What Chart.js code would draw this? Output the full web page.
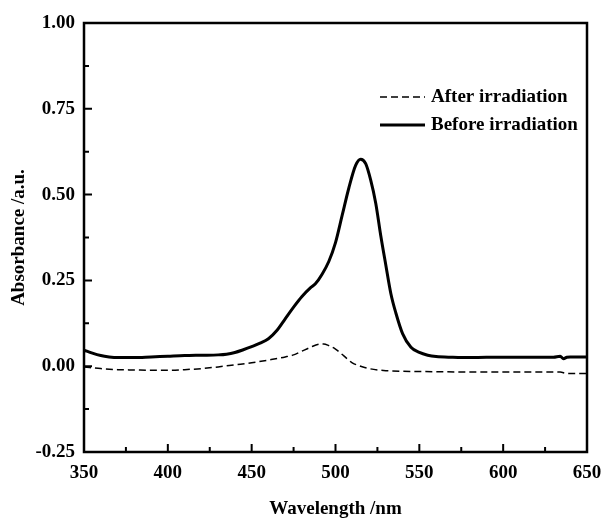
<!DOCTYPE html>
<html>
<head>
<meta charset="utf-8">
<script src="https://cdn.jsdelivr.net/npm/chart.js@4.4.1/dist/chart.umd.min.js"></script>
<style>
  html, body { margin: 0; padding: 0; background: #fff; }
  #wrap { width: 605px; height: 525px; }
</style>
</head>
<body>
<div id="wrap"><canvas id="chart0" width="605" height="525"></canvas></div>
<script>
// wavelength (nm) and absorbance
const beforeNm  = [350, 355, 360, 365, 370, 380, 390, 400, 410, 420, 430, 435, 440, 445, 450, 455, 460, 465, 470, 475, 480, 485, 488, 492, 496, 500, 504, 508, 512, 515, 518, 521, 524, 527, 530, 533, 536, 540, 545, 550, 555, 560, 570, 580, 590, 600, 610, 620, 630, 634, 636, 638, 640, 645, 650];
const beforeAbs = [0.047, 0.038, 0.031, 0.027, 0.025, 0.025, 0.027, 0.029, 0.031, 0.032, 0.033, 0.035, 0.040, 0.048, 0.057, 0.067, 0.080, 0.104, 0.138, 0.172, 0.203, 0.228, 0.240, 0.268, 0.305, 0.360, 0.440, 0.520, 0.585, 0.603, 0.590, 0.542, 0.475, 0.380, 0.295, 0.212, 0.155, 0.095, 0.055, 0.040, 0.032, 0.028, 0.026, 0.025, 0.026, 0.026, 0.026, 0.026, 0.026, 0.029, 0.022, 0.026, 0.027, 0.027, 0.027];

const afterNm  = [350, 360, 370, 380, 390, 400, 410, 420, 430, 440, 450, 460, 470, 475, 480, 485, 490, 493, 496, 500, 505, 510, 515, 520, 530, 540, 560, 580, 600, 620, 634, 638, 645, 650];
const afterAbs = [-0.002, -0.007, -0.010, -0.011, -0.012, -0.012, -0.010, -0.007, -0.002, 0.004, 0.010, 0.018, 0.027, 0.033, 0.044, 0.055, 0.064, 0.065, 0.060, 0.050, 0.030, 0.010, 0.000, -0.007, -0.013, -0.015, -0.016, -0.017, -0.017, -0.017, -0.017, -0.021, -0.021, -0.021];

const xMin = 350, xMax = 650, xStep = 50;
const yMin = -0.25, yMax = 1.0, yStep = 0.25;

const serif = '"Liberation Serif", "Times New Roman", serif';

function toPoints(xs, ys) {
  return xs.map((x, i) => ({ x: x, y: ys[i] }));
}

// frame, inward ticks (major + minor) and legend
const framePlugin = {
  id: 'framePlugin',
  afterDraw(chart) {
    const ctx = chart.ctx;
    const a = chart.chartArea;
    const xs = chart.scales.x, ys = chart.scales.y;
    ctx.save();
    ctx.strokeStyle = '#000';

    // ticks
    ctx.lineWidth = 2;
    ctx.beginPath();
    for (let v = xMin; v <= xMax + 1e-9; v += xStep / 2) {
      const px = xs.getPixelForValue(v);
      const major = Math.abs((v - xMin) % xStep) < 1e-6;
      ctx.moveTo(px, a.bottom);
      ctx.lineTo(px, a.bottom - (major ? 8 : 5));
    }
    for (let v = yMin; v <= yMax + 1e-9; v += yStep / 2) {
      const py = ys.getPixelForValue(v);
      const k = Math.round((v - yMin) / (yStep / 2));
      const major = k % 2 === 0;
      ctx.moveTo(a.left, py);
      ctx.lineTo(a.left + (major ? 8 : 5), py);
    }
    ctx.stroke();

    // frame
    ctx.lineWidth = 2.5;
    ctx.strokeRect(a.left, a.top, a.right - a.left, a.bottom - a.top);

    // legend
    const lx = a.left + 296, ly = a.top + 74, gap = 28;
    ctx.font = 'bold 19px ' + serif;
    ctx.fillStyle = '#000';
    ctx.textBaseline = 'middle';
    chart.data.datasets.forEach((ds, i) => {
      const y = ly + i * gap;
      ctx.lineWidth = ds.borderWidth;
      ctx.setLineDash(ds.borderDash || []);
      ctx.beginPath();
      ctx.moveTo(lx, y);
      ctx.lineTo(lx + 45, y);
      ctx.stroke();
      ctx.setLineDash([]);
      ctx.fillText(ds.label, lx + 51, y);
    });
    ctx.restore();
  }
};

let myChart = new Chart(document.getElementById('chart0').getContext('2d'), {
  type: 'line',
  data: {
    datasets: [
      {
        label: 'After irradiation',
        data: toPoints(afterNm, afterAbs),
        borderColor: '#000',
        backgroundColor: '#000',
        borderWidth: 1.5,
        borderDash: [7, 4],
        pointRadius: 0,
        fill: false,
        cubicInterpolationMode: 'monotone'
      },
      {
        label: 'Before irradiation',
        data: toPoints(beforeNm, beforeAbs),
        borderColor: '#000',
        backgroundColor: '#000',
        borderWidth: 3,
        pointRadius: 0,
        fill: false,
        cubicInterpolationMode: 'monotone'
      }
    ]
  },
  options: {
    responsive: false,
    animation: false,
    layout: { padding: { top: 23, right: 18, left: 0, bottom: 0 } },
    plugins: {
      legend: { display: false },
      tooltip: { enabled: false }
    },
    scales: {
      x: {
        type: 'linear',
        min: xMin,
        max: xMax,
        afterFit: s => { s.height = 73; s.paddingLeft = 0; s.paddingRight = 0; },
        border: { display: false },
        grid: { display: false, drawTicks: false },
        ticks: {
          stepSize: xStep,
          padding: 10,
          color: '#000',
          font: { family: serif, size: 19, weight: 'bold' }
        },
        title: {
          display: true,
          text: 'Wavelength /nm',
          color: '#000',
          padding: { top: 0, bottom: 5 },
          font: { family: serif, size: 19, weight: 'bold' }
        }
      },
      y: {
        min: yMin,
        max: yMax,
        afterFit: s => { s.width = 84; s.paddingTop = 0; s.paddingBottom = 0; },
        border: { display: false },
        grid: { display: false, drawTicks: false },
        ticks: {
          stepSize: yStep,
          padding: 9,
          color: '#000',
          font: { family: serif, size: 19, weight: 'bold' },
          callback: v => v.toFixed(2)
        },
        title: {
          display: true,
          text: 'Absorbance /a.u.',
          color: '#000',
          padding: { top: 8, bottom: 0 },
          font: { family: serif, size: 19, weight: 'bold' }
        }
      }
    }
  },
  plugins: [framePlugin]
});
</script>
</body>
</html>
